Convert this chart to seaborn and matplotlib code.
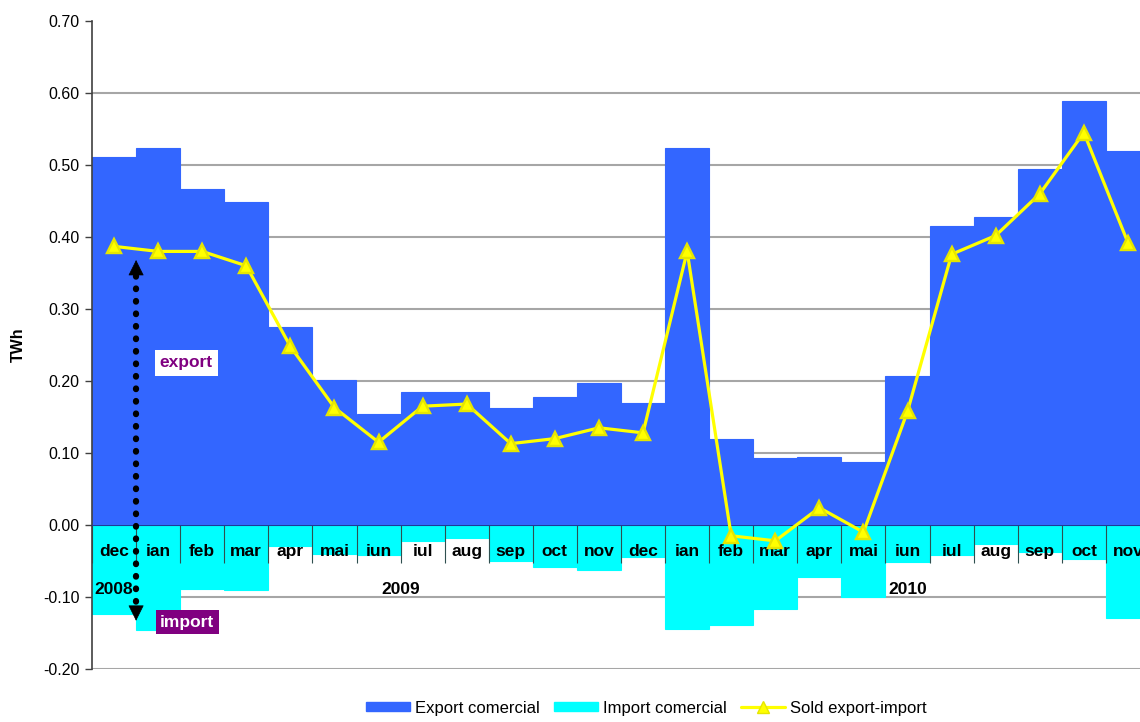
import matplotlib.pyplot as plt
import numpy as np
import pandas as pd
import seaborn as sns
from matplotlib.patches import Patch
from matplotlib.lines import Line2D

# monthly commercial flows, dec 2008 .. nov 2010 (TWh)
months = ["dec", "ian", "feb", "mar", "apr", "mai", "iun", "iul", "aug", "sep", "oct", "nov",
          "dec", "ian", "feb", "mar", "apr", "mai", "iun", "iul", "aug", "sep", "oct", "nov"]
years = ["2008"] + ["2009"] * 12 + ["2010"] * 11
export_com = [0.511, 0.524, 0.467, 0.449, 0.275, 0.201, 0.154, 0.185, 0.185, 0.163, 0.178, 0.197,
              0.169, 0.524, 0.119, 0.093, 0.094, 0.088, 0.207, 0.415, 0.428, 0.494, 0.589, 0.519]
import_com = [-0.124, -0.146, -0.089, -0.090, -0.029, -0.040, -0.042, -0.022, -0.018, -0.050, -0.059, -0.063,
              -0.045, -0.145, -0.139, -0.117, -0.072, -0.100, -0.051, -0.042, -0.027, -0.038, -0.047, -0.129]
sold = [0.387, 0.380, 0.380, 0.360, 0.248, 0.163, 0.115, 0.165, 0.168, 0.113, 0.120, 0.135,
        0.128, 0.380, -0.015, -0.022, 0.024, -0.010, 0.158, 0.376, 0.402, 0.460, 0.545, 0.392]
year_labels = ["2008", "2009", "2010"]
year_anchor = [0, 6.5, 18]

df = pd.DataFrame({"luna": [f"{y}-{m}" for y, m in zip(years, months)],
                   "export": export_com, "import": import_com, "sold": sold})
n = len(df)

sns.set_style("white")
plt.rcParams["font.family"] = ["Liberation Sans", "DejaVu Sans"]
plt.rcParams["text.color"] = "black"
plt.rcParams["axes.labelcolor"] = "black"

fig = plt.figure(figsize=(11.4, 7.22), dpi=100)
ax = fig.add_axes([92 / 1140, 53 / 722, 1058 / 1140, 648 / 722])

blue, cyan, yellow, purple = "#3366FF", "#00FFFF", "#FFFF00", "#800080"

sns.barplot(data=df, x="luna", y="export", color=blue, width=1, saturation=1,
            linewidth=0, edgecolor="none", ax=ax, zorder=1)
sns.barplot(data=df, x="luna", y="import", color=cyan, width=1, saturation=1,
            linewidth=0, edgecolor="none", ax=ax, zorder=1)
# close the hairline seams between touching bars
for p in ax.patches:
    p.set_edgecolor(p.get_facecolor())
    p.set_linewidth(0.8)
sns.pointplot(data=df, x="luna", y="sold", color=yellow, markers="^", markersize=10,
              linewidth=2.3, errorbar=None, ax=ax, zorder=4)
for ln in ax.lines:
    ln.set_markeredgecolor("#E6E600")

ax.set_xlim(-0.5, n - 0.5)
ax.set_ylim(-0.20, 0.70)
ax.set_yticks(np.arange(-0.2, 0.701, 0.1))
ax.yaxis.set_major_formatter(plt.FormatStrFormatter("%.2f"))
ax.tick_params(axis="y", labelsize=11.5, length=5, width=1, color="#404040", labelcolor="black",
               left=True, pad=4)
ax.set_ylabel("TWh", fontsize=11.5, fontweight="bold", labelpad=12)
ax.set_xlabel("")

# gridlines behind bars, no line at the top
ax.set_axisbelow(True)
ax.yaxis.grid(True, color="#A6A6A6", lw=1.5)
ax.yaxis.get_major_ticks()[-1].gridline.set_visible(False)

# category axis crossing at zero, labels inside the plot
ax.spines["bottom"].set_position(("data", 0))
ax.spines["bottom"].set_color("#1F3A99")
ax.spines["bottom"].set_linewidth(0.8)
ax.spines["top"].set_visible(False)
ax.spines["right"].set_visible(False)
ax.spines["left"].set_color("#404040")
ax.spines["left"].set_linewidth(1.2)
ax.set_xticks(range(n), labels=months)
ax.set_xticks(np.arange(-0.5, n, 1), minor=True)
ax.tick_params(axis="x", which="major", length=0, labelsize=12.5, labelcolor="black", pad=14)
ax.tick_params(axis="x", which="minor", length=27, width=0.8, color="#2F4F4F", direction="out", bottom=True)
for lbl in ax.get_xticklabels():
    lbl.set_fontweight("bold")
ax.xaxis.set_zorder(2.2)

for yl, xa in zip(year_labels, year_anchor):
    ax.text(xa, -0.089, yl, ha="center", va="center", fontsize=12.5, fontweight="bold", zorder=3)

# export / import annotation: dotted shaft with solid heads
arrow_x, arrow_top, arrow_bot = 0.5, 0.368, -0.133
ax.plot([arrow_x, arrow_x], [arrow_top - 0.022, arrow_bot + 0.022], color="black", lw=4.5,
        linestyle=(0, (0.1, 1.9)), dash_capstyle="round", zorder=5)
for tip, base in [(arrow_top, arrow_top - 0.02), (arrow_bot, arrow_bot + 0.02)]:
    ax.annotate("", xy=(arrow_x, tip), xytext=(arrow_x, base),
                arrowprops=dict(arrowstyle="-|>,head_length=0.6,head_width=0.3", color="black", lw=0.5,
                                mutation_scale=17, shrinkA=0, shrinkB=0), zorder=5)
ax.text(1.64, 0.225, "export", ha="center", va="center", fontsize=12.5, fontweight="bold", color=purple,
        bbox=dict(boxstyle="square,pad=0.3", fc="white", ec="none"), zorder=5)
ax.text(1.66, -0.135, "import", ha="center", va="center", fontsize=12.5, fontweight="bold", color="white",
        bbox=dict(boxstyle="square,pad=0.25", fc=purple, ec="none"), zorder=5)

handles = [Patch(color=blue, label="Export comercial"),
           Patch(color=cyan, label="Import comercial"),
           Line2D([], [], color=yellow, lw=2.3, marker="^", markersize=9, mec="#E6E600", label="Sold export-import")]
fig.legend(handles=handles, loc="lower center", bbox_to_anchor=(0.567, -0.012), ncol=3, frameon=False,
           fontsize=12, handlelength=2.6, handleheight=0.5, handletextpad=0.3, columnspacing=0.9)

fig.savefig("out.png", dpi=100)
